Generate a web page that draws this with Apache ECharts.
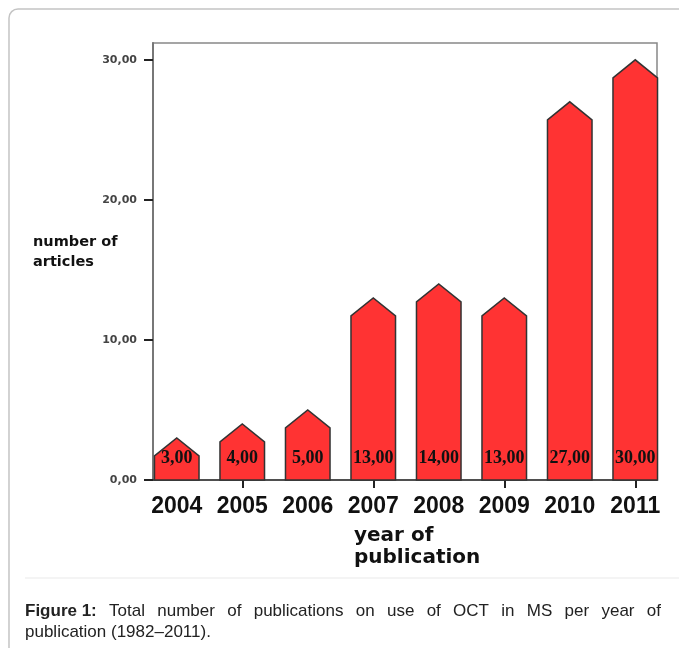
<!DOCTYPE html>
<html>
<head>
<meta charset="utf-8">
<script src="https://cdn.jsdelivr.net/npm/echarts@6/dist/echarts.min.js"></script>
<style>
html,body{margin:0;padding:0;background:#fff;}
#c{width:679px;height:648px;}
</style>
</head>
<body>
<div id="c"></div>
<script>
const years = ['2004','2005','2006','2007','2008','2009','2010','2011'];
const counts = [3, 4, 5, 13, 14, 13, 27, 30];
const yTicks = [0, 10, 20, 30];
const yMax = 31.2;
const yName = 'number of\narticles';
const xName = 'year of\npublication';
const captionBold = 'Figure 1:';
const captionLine1 = 'Total number of publications on use of OCT in MS per year of';
const captionLine2 = 'publication (1982\u20132011).';

const fmt = v => v.toFixed(2).replace('.', ',');

const chart = echarts.init(document.getElementById('c'), null, {renderer: 'canvas'});

// justify caption line 1
const capFont = 17, capFamily = '"Liberation Sans", Arial, sans-serif';
const ctx = document.createElement('canvas').getContext('2d');
const words = [{t: captionBold, b: true}].concat(captionLine1.split(' ').map(t => ({t, b: false})));
let total = 0;
words.forEach(w => {
  ctx.font = (w.b ? 'bold ' : '') + capFont + 'px ' + capFamily;
  w.w = ctx.measureText(w.t).width; total += w.w;
});
const capLeft = 25, capRight = 661;
const gap = (capRight - capLeft - total) / (words.length - 1);
let cx = capLeft;
const capY1 = 611, capY2 = 632;
const capTexts = words.map(w => {
  const el = {type: 'text', x: cx, y: capY1, style: {text: w.t, font: (w.b ? 'bold ' : '') + capFont + 'px ' + capFamily, fill: '#222', textVerticalAlign: 'middle', textAlign: 'left'}};
  cx += w.w + gap; return el;
});
capTexts.push({type: 'text', x: capLeft, y: capY2, style: {text: captionLine2, font: capFont + 'px ' + capFamily, fill: '#222', textVerticalAlign: 'middle', textAlign: 'left'}});

const option = {
  animation: false,
  backgroundColor: '#fff',
  grid: [
    {left: 153, right: 22, top: 43, bottom: 168, show: true, borderColor: '#888', borderWidth: 1.5, backgroundColor: 'transparent'},
    {left: 144, right: 11, top: 43, bottom: 168}
  ],
  xAxis: [
    {gridIndex: 0, type: 'value', min: 0, max: 1, axisLine: {show: true, onZero: false, lineStyle: {color: '#333', width: 1.5}}, axisTick: {show: false}, axisLabel: {show: false}, splitLine: {show: false}},
    {gridIndex: 1, type: 'category', data: years, boundaryGap: true,
     axisLine: {show: false},
     axisTick: {show: true, alignWithLabel: true, length: 8, interval: (i) => i % 2 === 1, lineStyle: {color: '#222', width: 2}},
     axisLabel: {color: '#111', fontFamily: '"Liberation Sans", Arial', fontWeight: 'bold', fontSize: 23, margin: 15, interval: 0},
     splitLine: {show: false}}
  ],
  yAxis: [
    {gridIndex: 0, type: 'value', min: 0, max: yMax,
     axisLine: {show: true, lineStyle: {color: '#777', width: 2}},
     axisTick: {show: true, length: 9, customValues: yTicks, lineStyle: {color: '#222', width: 2}},
     axisLabel: {customValues: yTicks, formatter: v => fmt(v), color: '#444', fontFamily: '"DejaVu Sans", sans-serif', fontWeight: 'bold', fontSize: 11, margin: 16},
     splitLine: {show: false}},
    {gridIndex: 1, type: 'value', min: 0, max: yMax, show: false}
  ],
  series: [{
    type: 'custom',
    xAxisIndex: 1, yAxisIndex: 1,
    data: counts.map((v, i) => [i, v]),
    encode: {x: 0, y: 1},
    renderItem: function (params, api) {
      const i = api.value(0), v = api.value(1);
      const top = api.coord([i, v]);
      const base = api.coord([i, 0]);
      const w = api.size([1, 0])[0] * 0.68;
      const x = top[0];
      const sh = Math.min(base[1], top[1] + 18);
      return {
        type: 'group',
        children: [
          {type: 'polygon', shape: {points: [[x - w / 2, base[1]], [x - w / 2, sh], [x, top[1]], [x + w / 2, sh], [x + w / 2, base[1]]]},
           style: {fill: '#ff3333', stroke: '#333', lineWidth: 1.5}},
          {type: 'text', style: {text: fmt(v), x: x, y: base[1] - 22, align: 'center', verticalAlign: 'middle',
            fontFamily: '"Liberation Serif", serif', fontWeight: 'bold', fontSize: 18, fill: '#111'}}
        ]
      };
    }
  }],
  graphic: [
    {type: 'rect', shape: {x: 9, y: 9, width: 720, height: 720, r: 9}, style: {fill: 'none', stroke: '#c4c4c4', lineWidth: 1.5}, z: 0},
    {type: 'line', shape: {x1: 25, y1: 578, x2: 679, y2: 578}, style: {stroke: '#f0f0f0', lineWidth: 1.5}},
    {type: 'text', x: 33, y: 232, style: {text: yName, font: 'bold 14.5px "DejaVu Sans", sans-serif', fill: '#111', lineHeight: 20, textVerticalAlign: 'top'}},
    {type: 'text', x: 354, y: 525, style: {text: xName, font: 'bold 20px "DejaVu Sans", sans-serif', fill: '#111', lineHeight: 22, textVerticalAlign: 'top'}}
  ].concat(capTexts)
};
chart.setOption(option);
</script>
</body>
</html>
